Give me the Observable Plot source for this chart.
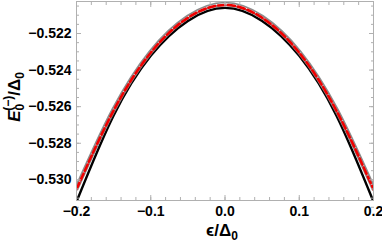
<!DOCTYPE html>
<html><head><meta charset="utf-8">
<script src="https://cdn.jsdelivr.net/npm/d3@7"></script>
<script src="https://cdn.jsdelivr.net/npm/@observablehq/plot@0.6"></script>
<style>body{margin:0;background:#fff}</style>
</head><body><div id="chart"></div>
<script>
const eps = [-0.2, -0.15, -0.1, -0.05, 0, 0.05, 0.1, 0.15, 0.2];
const blackE = [-0.5312, -0.52648, -0.52322, -0.52131, -0.52060, -0.52131, -0.52322, -0.52648, -0.5312];
const grayE  = [-0.53047, -0.52616, -0.52300, -0.52109, -0.52038, -0.52109, -0.52300, -0.52616, -0.53047];
const redE   = [-0.53052, -0.52621, -0.52305, -0.52114, -0.52044, -0.52114, -0.52305, -0.52621, -0.53052];
const xMajor = [-0.2, -0.1, 0, 0.1, 0.2];
const yMajor = [-0.530, -0.528, -0.526, -0.524, -0.522];

const xMinor = d3.range(-10, 11).map(i => i * 0.02);
const yMinor = d3.range(0, 24).map(i => -0.5315 + i * 0.0005);

const mk = arr => eps.map((e, i) => ({e, v: arr[i]}));
const blk = mk(blackE), gry = mk(grayE), red = mk(redE);
const fc = "#b0b0b0";

const plot = Plot.plot({
  width: 382, height: 245,
  marginLeft: 76, marginRight: 9, marginTop: 1, marginBottom: 45,
  style: {fontFamily: "Liberation Sans, Arial, sans-serif", fontSize: "14px", fontWeight: "bold", color: "#000", background: "#fff"},
  x: {domain: [-0.2, 0.2], label: null},
  y: {domain: [-0.53113, -0.52025], label: null},
  marks: [
    Plot.line(blk, {x: "e", y: "v", stroke: "#000", strokeWidth: 2.4, curve: "natural", clip: true}),
    Plot.line(gry, {x: "e", y: "v", stroke: "#8c8c8c", strokeWidth: 4.5, curve: "natural", clip: true}),
    Plot.line(gry, {x: "e", y: "v", stroke: "#fff", strokeWidth: 1, curve: "natural", clip: true}),
    Plot.line(red, {x: "e", y: "v", stroke: "#f00000", strokeWidth: 2.6, strokeDasharray: "7,3", curve: "natural", clip: true}),
    Plot.frame({stroke: fc}),
    Plot.axisX({anchor: "bottom", ticks: xMinor, tickSize: -3, text: null, stroke: fc}),
    Plot.axisX({anchor: "top", ticks: xMinor, tickSize: -3, text: null, stroke: fc}),
    Plot.axisX({anchor: "bottom", ticks: xMajor, tickSize: -5, text: null, stroke: fc}),
    Plot.axisX({anchor: "top", ticks: xMajor, tickSize: -5, text: null, stroke: fc}),
    Plot.axisY({anchor: "left", ticks: yMinor, tickSize: -3, text: null, stroke: fc}),
    Plot.axisY({anchor: "right", ticks: yMinor, tickSize: -3, text: null, stroke: fc}),
    Plot.axisY({anchor: "left", ticks: yMajor, tickSize: -5, text: null, stroke: fc}),
    Plot.axisY({anchor: "right", ticks: yMajor, tickSize: -5, text: null, stroke: fc}),
    Plot.axisX({anchor: "bottom", ticks: xMajor, tickSize: 0, tickPadding: 6, tickFormat: d3.format(".1f"), label: null}),
    Plot.axisY({anchor: "left", ticks: yMajor, tickSize: 0, tickPadding: 5, tickFormat: d3.format(".3f"), label: null})
  ]
});

const svg = d3.select(plot);
svg.append("text")
  .attr("x", 222).attr("y", 236).attr("text-anchor", "middle")
  .style("font-size", "17px").style("font-weight", "bold")
  .html('ϵ/Δ<tspan dy="4" font-size="12px">0</tspan>');
svg.append("text")
  .attr("transform", "translate(20,97) rotate(-90)").attr("text-anchor", "middle")
  .style("font-size", "17px").style("font-weight", "bold")
  .html('<tspan font-style="italic">E</tspan><tspan dy="4" font-size="12px">0</tspan><tspan dx="-7" dy="-12" font-size="12px">(−)</tspan><tspan dy="8">/Δ</tspan><tspan dy="4" font-size="12px">0</tspan>');
document.getElementById("chart").appendChild(plot);
</script></body></html>
